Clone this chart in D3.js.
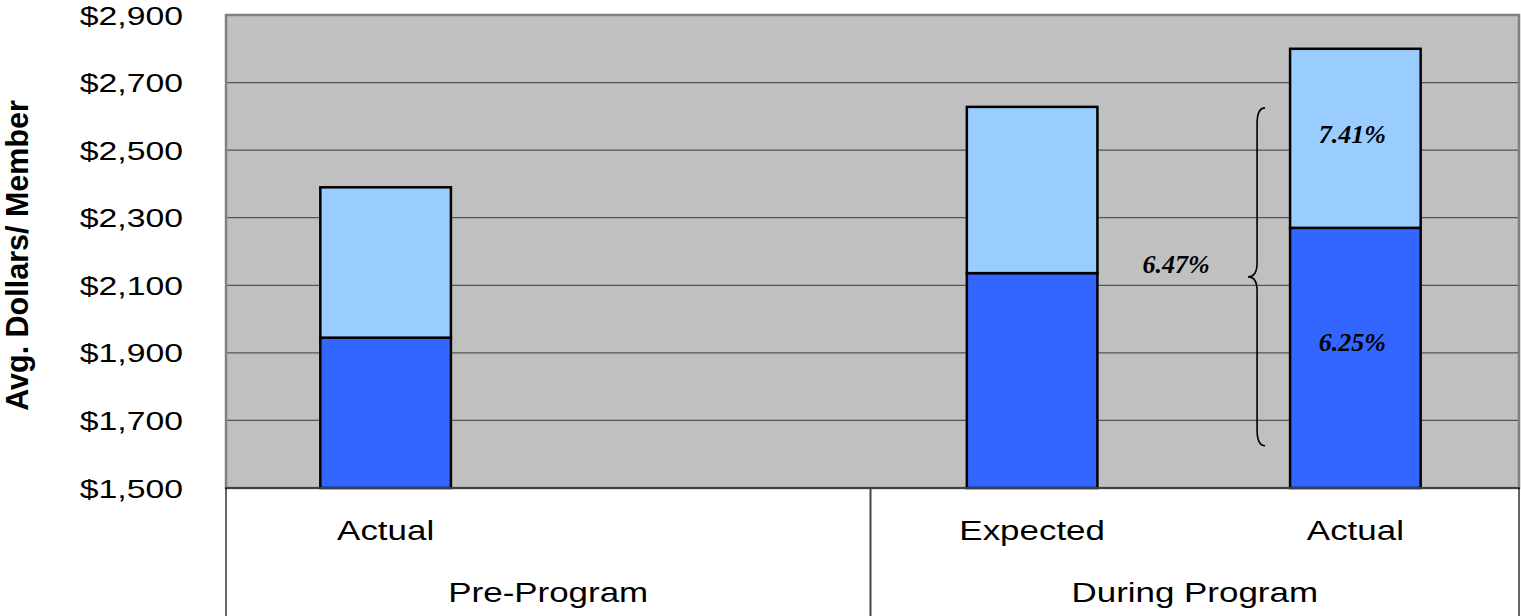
<!DOCTYPE html>
<html>
<head>
<meta charset="utf-8">
<script src="https://cdn.jsdelivr.net/npm/d3@7"></script>
<style>
  html, body { margin: 0; padding: 0; background: #fff; }
  svg { display: block; }
</style>
</head>
<body>
<svg id="chart" width="1521" height="616"></svg>
<script>
// Category slots on the x axis (inner level) and their outer groups
const categories = ["Actual", "", "Expected", "Actual"];
const groupLabels = ["Pre-Program", "During Program"];
const groupSizes = [2, 2];

// Stacked components, average dollars per member
const baseCost = [1945, null, 2136, 2270];
const addedCost = [445, null, 492, 530];

// Growth rates annotated on the chart
const baseGrowth = "6.25%";
const addedGrowth = "7.41%";
const totalGrowth = "6.47%";
const braceRange = [1625, 2625];

const yTicks = [1500, 1700, 1900, 2100, 2300, 2500, 2700, 2900];
const yTitle = "Avg. Dollars/ Member";

const svg = d3.select("#chart");
const plot = { left: 226, right: 1519, top: 15, bottom: 488 };
const axisBottom = 616;

const x = d3.scaleBand()
  .domain(d3.range(categories.length))
  .range([plot.left - 2, plot.right - 2])
  .paddingInner(0.596)
  .paddingOuter(0.298);

const y = d3.scaleLinear()
  .domain([1500, 2900])
  .range([plot.bottom, plot.top]);

// plot area background
svg.append("rect")
  .attr("x", plot.left).attr("y", plot.top)
  .attr("width", plot.right - plot.left)
  .attr("height", plot.bottom - plot.top)
  .attr("fill", "#c0c0c0");

// gridlines
svg.append("g")
  .selectAll("line")
  .data(yTicks.slice(1, -1))
  .join("line")
  .attr("x1", plot.left).attr("x2", plot.right)
  .attr("y1", d => y(d)).attr("y2", d => y(d))
  .attr("stroke", "#555")
  .attr("stroke-width", 1.3);

// plot border
svg.append("rect")
  .attr("x", plot.left).attr("y", plot.top)
  .attr("width", plot.right - plot.left)
  .attr("height", plot.bottom - plot.top)
  .attr("fill", "none")
  .attr("stroke", "#808080")
  .attr("stroke-width", 2.5);

// stacked bars
const rows = categories.map((c, i) => ({ i, base: baseCost[i], added: addedCost[i] }))
  .filter(d => d.base != null);

const bars = svg.append("g");
bars.selectAll("rect.base")
  .data(rows)
  .join("rect")
  .attr("class", "base")
  .attr("x", d => x(d.i))
  .attr("width", x.bandwidth())
  .attr("y", d => y(d.base))
  .attr("height", d => y(1500) - y(d.base))
  .attr("fill", "#3366ff")
  .attr("stroke", "#000")
  .attr("stroke-width", 2.5);

bars.selectAll("rect.added")
  .data(rows)
  .join("rect")
  .attr("class", "added")
  .attr("x", d => x(d.i))
  .attr("width", x.bandwidth())
  .attr("y", d => y(d.base + d.added))
  .attr("height", d => y(d.base) - y(d.base + d.added))
  .attr("fill", "#99ccff")
  .attr("stroke", "#000")
  .attr("stroke-width", 2.5);

// bottom axis line
svg.append("line")
  .attr("x1", plot.left - 1).attr("x2", plot.right + 1)
  .attr("y1", plot.bottom).attr("y2", plot.bottom)
  .attr("stroke", "#404040")
  .attr("stroke-width", 2);

// y axis labels (stretched Arial look)
const tickStretch = 1.35;
const yAxis = svg.append("g")
  .attr("transform", `translate(${plot.left},0)`)
  .call(d3.axisLeft(y).tickValues(yTicks).tickSize(0).tickFormat(d => "$" + d3.format(",")(d)));
yAxis.select(".domain").remove();
yAxis.selectAll("text")
  .attr("font-family", "Liberation Sans, Arial, sans-serif")
  .attr("font-size", 25)
  .attr("fill", "#000")
  .attr("x", -43 / tickStretch)
  .attr("dy", "0.36em")
  .attr("transform", `scale(${tickStretch},1)`);

// y axis title
svg.append("text")
  .attr("transform", `translate(28,${(plot.top + plot.bottom) / 2 + 4}) rotate(-90)`)
  .attr("text-anchor", "middle")
  .attr("font-family", "Liberation Sans, Arial, sans-serif")
  .attr("font-weight", "bold")
  .attr("font-size", 30.5)
  .text(yTitle);

// category axis: separators
const groupEdges = [0];
groupSizes.forEach(s => groupEdges.push(groupEdges[groupEdges.length - 1] + s));
const slotEdge = i => i === 0 ? plot.left : i === categories.length ? plot.right
  : x(i) - x.step() * x.paddingInner() / 2;

svg.append("g")
  .selectAll("line")
  .data(groupEdges)
  .join("line")
  .attr("x1", d => slotEdge(d)).attr("x2", d => slotEdge(d))
  .attr("y1", plot.bottom).attr("y2", axisBottom)
  .attr("stroke", (d, i) => i === 0 || i === groupEdges.length - 1 ? "#000" : "#444")
  .attr("stroke-width", (d, i) => i === 0 || i === groupEdges.length - 1 ? 1.2 : 2);

const catStretch = 1.27;
function stretchedText(g, cx, cy, str) {
  g.append("text")
    .attr("transform", `translate(${cx},${cy}) scale(${catStretch},1)`)
    .attr("text-anchor", "middle")
    .attr("font-family", "Liberation Sans, Arial, sans-serif")
    .attr("font-size", 27.5)
    .attr("fill", "#000")
    .text(str);
}

const catG = svg.append("g");
categories.forEach((c, i) => {
  if (c) stretchedText(catG, x(i) + x.bandwidth() / 2, 540, c);
});
groupLabels.forEach((g, k) => {
  const cx = (slotEdge(groupEdges[k]) + slotEdge(groupEdges[k + 1])) / 2;
  stretchedText(catG, cx, 602, g);
});

// growth annotations
const noteFont = "Liberation Serif, 'Times New Roman', serif";
function note(cx, cy, str) {
  svg.append("text")
    .attr("x", cx).attr("y", cy)
    .attr("text-anchor", "middle")
    .attr("dy", "0.35em")
    .attr("font-family", noteFont)
    .attr("font-style", "italic")
    .attr("font-weight", "bold")
    .attr("font-size", 26)
    .attr("fill", "#000")
    .text(str);
}

const last = rows[rows.length - 1];
const lastCx = x(last.i) + x.bandwidth() / 2;
note(lastCx - 3, y(last.base + last.added / 2) - 4, addedGrowth);
note(lastCx - 3, y(last.base) + 114, baseGrowth);

// brace spanning the growth from expected to actual
const bx = x(last.i) - 33;
const bTop = y(braceRange[1]);
const bBot = y(braceRange[0]);
const bMid = (bTop + bBot) / 2;
const bracePath = [
  `M${bx + 8},${bTop}`,
  `Q${bx},${bTop} ${bx},${bTop + 16}`,
  `L${bx},${bMid - 14}`,
  `Q${bx},${bMid} ${bx - 9},${bMid}`,
  `Q${bx},${bMid} ${bx},${bMid + 14}`,
  `L${bx},${bBot - 16}`,
  `Q${bx},${bBot} ${bx + 8},${bBot}`
].join(" ");
svg.append("path")
  .attr("d", bracePath)
  .attr("fill", "none")
  .attr("stroke", "#000")
  .attr("stroke-width", 1.6);

note(bx - 81, bMid - 13, totalGrowth);
</script>
</body>
</html>
